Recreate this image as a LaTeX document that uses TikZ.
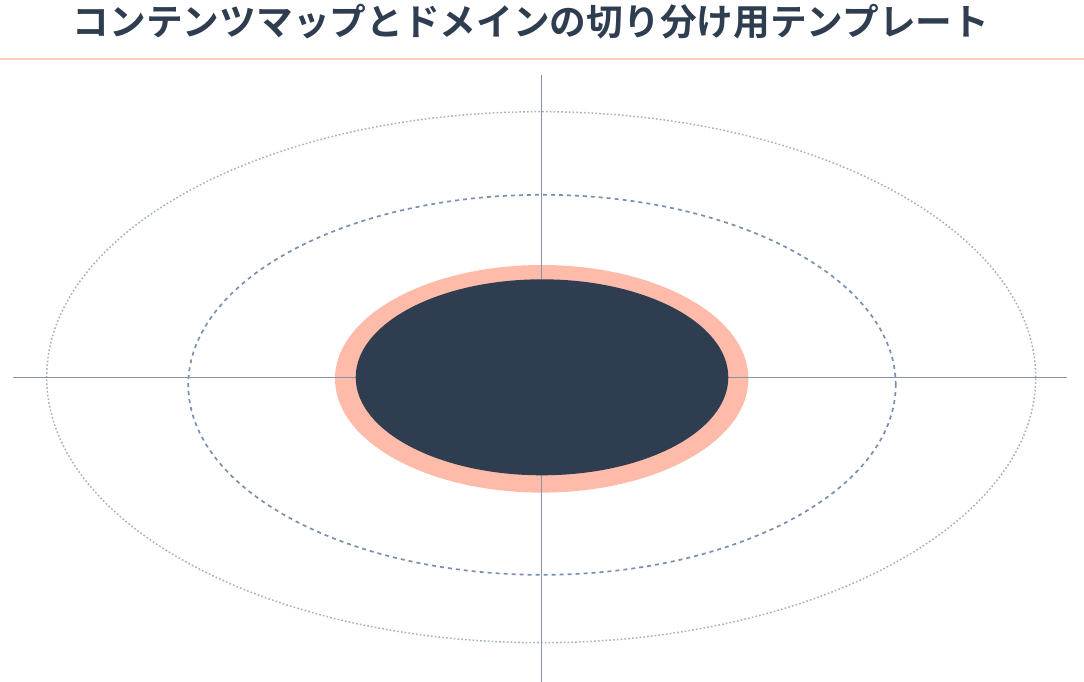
\documentclass[tikz,border=0pt]{standalone}
\usepackage{fontspec}
\newfontfamily\jpfont{Noto Sans CJK JP}[BoldFont={Noto Sans CJK JP Bold}]
\usetikzlibrary{calc}
\usetikzlibrary{positioning}

\definecolor{navy}{HTML}{2E3E50}
\definecolor{salmon}{HTML}{FFBBAA}
\definecolor{axisgray}{HTML}{8494AE}
\definecolor{ringblue}{HTML}{7A8FAE}
\definecolor{ringlight}{HTML}{A2AFC5}

\begin{document}
\begin{tikzpicture}[
    x=1pt, y=-1pt,
    axis/.style={axisgray, line width=1pt},
    rule line/.style={salmon!80, line width=2pt},
    dashed ring/.style={ringblue, line width=1.7pt, dash pattern=on 4pt off 4pt},
    dotted ring/.style={ringlight, line width=1.5pt, dash pattern=on 1.6pt off 2.2pt},
    title/.style={font=\jpfont\bfseries\fontsize{36.7pt}{40pt}\selectfont, text=navy, inner sep=0pt},
    every node/.style={color=black}
    ]
\useasboundingbox (0,0) rectangle (1084,682);

\coordinate (O) at (541.5,377);
\coordinate (W) at (13,377);
\coordinate (E) at (1067,377);
\coordinate (N) at (541,75);
\coordinate (S) at (541,682);
\coordinate (RL) at (0,59);
\coordinate (RR) at (1084,59);

% title
\node[title] (heading) at (531,22) {コンテンツマップとドメインの切り分け用テンプレート};
\draw[rule line] (RL) -- (RR);

% rings
\draw[dotted ring] (541.2,377.2) ellipse [x radius=494.5pt, y radius=265.5pt];
\draw[dashed ring] (542,384.8) ellipse [x radius=353.7pt, y radius=190pt];
\fill[salmon] (541.7,378.8) ellipse [x radius=206.7pt, y radius=113.8pt];

% axis
\draw[axis] (W) -- (E);
\draw[axis] (N) -- (S);

% core
\fill[navy] (542,377.3) ellipse [x radius=186.3pt, y radius=98pt];

\end{tikzpicture}
\end{document}
